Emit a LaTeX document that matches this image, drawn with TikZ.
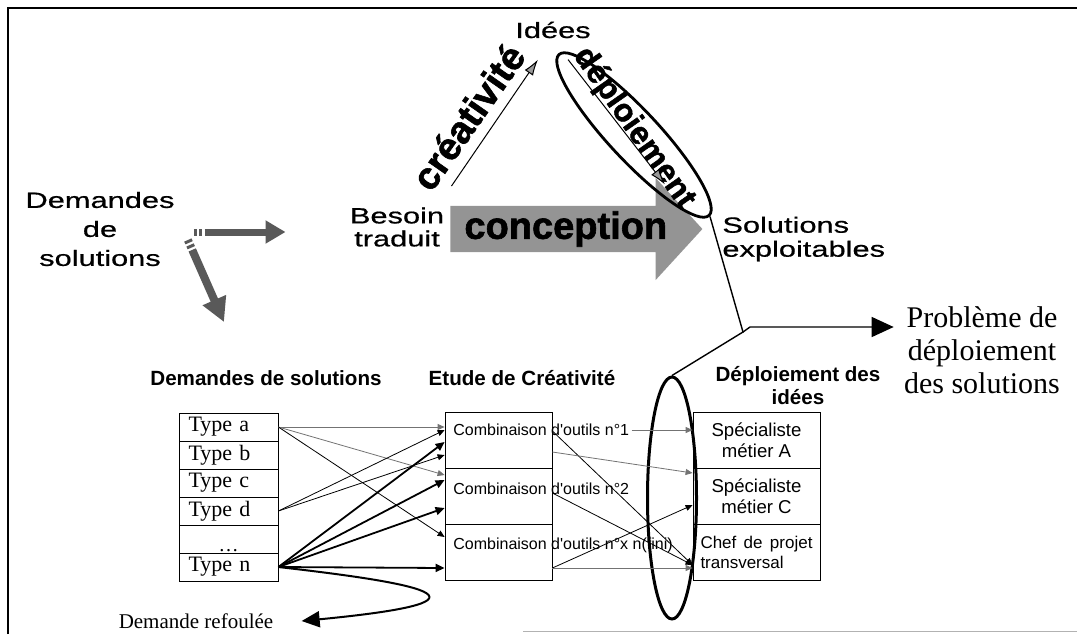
\documentclass[tikz,border=0pt]{standalone}
\usepackage{fontspec}
\setmainfont{Liberation Serif}
\setsansfont{Liberation Sans}
\newfontfamily\widesans[FakeStretch=1.4,FakeBold=0.6]{Liberation Sans}
\newfontfamily\blacksans[BoldFeatures={FakeBold=1.6}]{Liberation Sans}
\usetikzlibrary{arrows.meta,shapes.geometric,shapes.arrows}

\tikzset{
  bigtext/.style={font=\widesans\fontsize{11}{14.5}\selectfont, align=center, inner sep=1pt},
  heavy/.style={font=\blacksans\bfseries\fontsize{19}{19}\selectfont, inner sep=0pt},
  headtext/.style={font=\sffamily\bfseries\fontsize{10.3}{11.5}\selectfont, align=center, inner sep=1pt},
  typerow/.style={draw, minimum width=49.5pt, minimum height=14pt, text width=40pt, align=left,
    inner xsep=4pt, inner ysep=0pt, font=\fontsize{11}{12}\selectfont},
  combrow/.style={draw, minimum width=53.5pt, minimum height=28pt, inner sep=0pt},
  deplrow/.style={draw, minimum width=63.5pt, minimum height=28pt, inner sep=1pt, align=center,
    font=\sffamily\fontsize{9.3}{10.5}\selectfont},
  combtext/.style={anchor=west, inner sep=1pt, font=\sffamily\fontsize{8}{9}\selectfont},
  flowlink/.style={draw=black, line width=0.4pt, -{Triangle[length=3.5pt,width=3pt]}},
  greylink/.style={flowlink, draw=black!55},
  boldlink/.style={flowlink, line width=0.9pt, -{Triangle[length=4.5pt,width=4pt]}},
  fatarrow/.style={draw=black!65, line width=3.5pt,
    dash pattern=on 1.5pt off 1.2pt on 1.5pt off 1.2pt on 300pt,
    -{Triangle[length=10pt,width=11pt]}},
  ideaarrow/.style={draw=black, line width=0.5pt, -{Latex[length=8pt,width=5pt,fill=black!40]}}
}

\begin{document}
\begin{tikzpicture}[x=0.5pt,y=-0.5pt]
  \useasboundingbox (0,0) rectangle (1077,634);
  \draw[line width=1pt] (8,634) -- (8,8) -- (1077,8);
  \draw[black!30] (523,631) -- (1077,631);

  % triangle besoin / idees / solutions
  \node[single arrow, fill=black!42, heavy, minimum height=126pt, single arrow head extend=14pt,
    single arrow tip angle=95, inner ysep=2.5pt, anchor=tail] (concept) at (450,229) {conception};
  \begin{scope}[every node/.style={bigtext}]
  \node (dem) at (100,229) {Demandes\\de\\solutions};
  \node[font=\widesans\fontsize{11}{11.5}\selectfont] (besoin) at (397,227) {Besoin\\traduit};
  \node (idees) at (553,30) {Idées};
  \node[anchor=west, align=left, font=\widesans\fontsize{11}{12}\selectfont] (sol) at (720,239) {Solutions\\exploitables};
  \end{scope}
  \node[heavy, rotate=55] (crea) at (468,117) {créativité};
  \node[heavy, font=\blacksans\bfseries\fontsize{16}{16}\selectfont, rotate=-55] (deptxt) at (634,128) {déploiement};
  \node[draw, ellipse, line width=1.4pt, rotate=-47, minimum width=110pt, minimum height=25pt] (depell) at (634,135) {};
  \draw[ideaarrow] ([shift={(2.5pt,9.5pt)}]besoin.north east) -- ([shift={(12.5pt,-9.5pt)}]idees.south west);
  \draw[ideaarrow] ([shift={(-12.5pt,-9.5pt)}]idees.south east) -- ([shift={(-22.5pt,16pt)}]depell.east);

  % tableau
  \begin{scope}[every node/.style={headtext}]
  \node (hdem) at (266,378) {Demandes de solutions};
  \node (hcre) at (522,378) {Etude de Créativité};
  \node (hdep) at (798,386) {Déploiement des\\idées};
  \end{scope}

  \draw[fatarrow] ([shift={(8.5pt,-1.5pt)}]dem.east) -- ([shift={(-31pt,-2.5pt)}]besoin.west);
  \draw[fatarrow, line width=4pt, -{Triangle[length=12pt,width=12pt]}] ([shift={(5.5pt,-5.5pt)}]dem.east) -- ([shift={(-21pt,23pt)}]hdem.north);

  \begin{scope}[every node/.style={typerow}]
  \node (ta) at (228.5,427) {Type a};
  \node (tb) at (228.5,455) {Type b};
  \node (tc) at (228.5,483) {Type c};
  \node (td) at (228.5,511) {Type d};
  \node (tdots) at (228.5,539) {};
  \node (tn) at (228.5,567) {Type n};
  \end{scope}
  \node[anchor=south, inner sep=0.5pt] (dots) at (tdots.south) {\dots};

  \node[combrow] (c1) at (498.5,440) {};
  \node[combrow] (c2) at (498.5,496) {};
  \node[combrow] (c3) at (498.5,552) {};
  \node[combtext] (c1t) at (451,430) {Combinaison d\textquotesingle outils n°1};
  \node[combtext] (c2t) at (451,489) {Combinaison d\textquotesingle outils n°2};
  \node[combtext] (c3t) at (451,545) {Combinaison d\textquotesingle outils n°x n(fini)};

  \node[deplrow] (d1) at (756.5,440) {Spécialiste\\métier A};
  \node[deplrow] (d2) at (756.5,496) {Spécialiste\\métier C};
  \node[deplrow, text width=56pt, align=justify, font=\sffamily\fontsize{8.5}{10}\selectfont] (d3) at (756.5,552) {Chef de projet transversal};

  \node[draw, ellipse, line width=1.5pt, minimum width=24.5pt, minimum height=121pt] (sel) at (672,498) {};

  \begin{scope}[every edge/.style={draw}]
  \path (ta.east) edge[greylink] (c1.west |- 0,427);
  \path (ta.east) edge[greylink] (c2.west |- 0,475);
  \path (ta.east) edge[flowlink] (c3.west |- 0,537);
  \path (td.east) edge[flowlink] (c1.west |- 0,430);
  \path (td.east) edge[flowlink] (c1.west |- 0,455);
  \path (tn.east) edge[boldlink] (c1.west |- 0,442);
  \path (tn.east) edge[boldlink] (c2.west |- 0,480);
  \path (tn.east) edge[boldlink] (c2.west |- 0,508);
  \path (tn.east) edge[boldlink] (c3.west |- 0,568);
  \path (c1t.east) edge[greylink] (d1.west |- c1t.east);
  \path (c1.east |- 0,431) edge[flowlink] (d3.west |- 0,565);
  \path (c1.east |- 0,452) edge[greylink] (d2.west |- 0,473);
  \path (c2.east |- 0,493) edge[flowlink] (d3.west |- 0,565);
  \path (c3.east |- 0,568) edge[flowlink] (d2.west |- 0,505);
  \path (c3.east |- 0,568) edge[greylink] (d3.west |- 0,568);
  \end{scope}

  \node[font=\fontsize{10.5}{12}\selectfont, inner sep=1pt] (refoul) at (196,621) {Demande refoulée};
  \draw[line width=1pt, -{Triangle[length=9pt,width=8pt]}] (tn.east) .. controls (410,582) and (520,600) .. ([xshift=13pt]refoul.east);

  % probleme
  \node[font=\fontsize{15}{16.5}\selectfont, align=center, inner xsep=5pt] (prob) at (982,350) {Problème de\\déploiement\\des solutions};
  \coordinate (kink) at (743,332);
  \draw[line width=0.7pt] (depell.east) -- (kink) -- (sel.north);
  \draw[line width=0.7pt, -{Triangle[length=11pt,width=10pt]}] (kink) -- (750,327) -- (prob.west |- 0,327);
\end{tikzpicture}
\end{document}
